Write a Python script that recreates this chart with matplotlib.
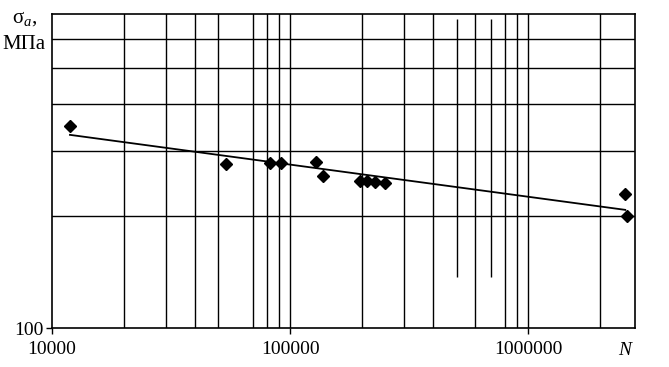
import matplotlib
matplotlib.use("Agg")
import matplotlib.pyplot as plt

plt.rcParams['font.family'] = ['Liberation Serif', 'DejaVu Serif']
plt.rcParams['mathtext.fontset'] = 'custom'
plt.rcParams['mathtext.rm'] = 'Liberation Serif'
plt.rcParams['mathtext.it'] = 'Liberation Serif:italic'

# test points, N cycles vs stress amplitude
N_cycles = [11900, 53800, 82400, 91700, 128500, 137700, 196900, 210700,
            227600, 250600, 2556000, 2607000]
sigma_a = [350, 277, 278, 278, 280, 257, 249, 249, 247, 246, 229, 200]

# trend line ends
line_N = [11900, 2556000]
line_sigma = [331, 208]

# grid as drawn in the original
vgrid_full = [20000, 30000, 40000, 50000, 70000, 80000, 90000, 100000,
              200000, 300000, 400000, 600000, 800000, 900000, 1000000, 2000000]
vgrid_part = [500000, 700000]
part_range = (137, 679)
hgrid = [200, 300, 400, 500, 600]

x_ticks = [10000, 100000, 1000000]
x_labels = ['10000', '100000', '1000000']

fig = plt.figure(figsize=(6.69, 3.67), dpi=100)
ax = fig.add_axes([0.0777, 0.106, 0.871, 0.856])
ax.set_xscale('log')
ax.set_yscale('log')
ax.set_xlim(10000, 2.8e6)
ax.set_ylim(100, 700)

for x in vgrid_full:
    ax.axvline(x, color='black', lw=1.0, zorder=1)
ax.vlines(vgrid_part, part_range[0], part_range[1], color='black', lw=1.0, zorder=1)
for y in hgrid:
    ax.axhline(y, color='black', lw=1.0, zorder=1)

ax.plot(line_N, line_sigma, color='black', lw=1.3, zorder=2)
ax.plot(N_cycles, sigma_a, linestyle='none', marker='D', ms=6,
        color='black', zorder=3)

for s in ax.spines.values():
    s.set_linewidth(1.2)
    s.set_color('black')

ax.minorticks_off()
ax.set_xticks(x_ticks)
ax.set_xticklabels(x_labels)
ax.set_yticks([100])
ax.set_yticklabels(['100'])
ax.tick_params(axis='both', direction='out', length=4, width=1,
               labelsize=14, colors='black')
ax.tick_params(axis='x', pad=5)
ax.tick_params(axis='y', pad=2)

ax.text(0.982, -0.07, 'N', transform=ax.transAxes, fontsize=14,
        style='italic', ha='center', va='center')
fig.text(0.018, 0.95, 'σ$_a$,', fontsize=15, ha='left', va='center')
fig.text(0.004, 0.878, 'МПа', fontsize=15, ha='left', va='center')

fig.savefig('out.png', dpi=100)
